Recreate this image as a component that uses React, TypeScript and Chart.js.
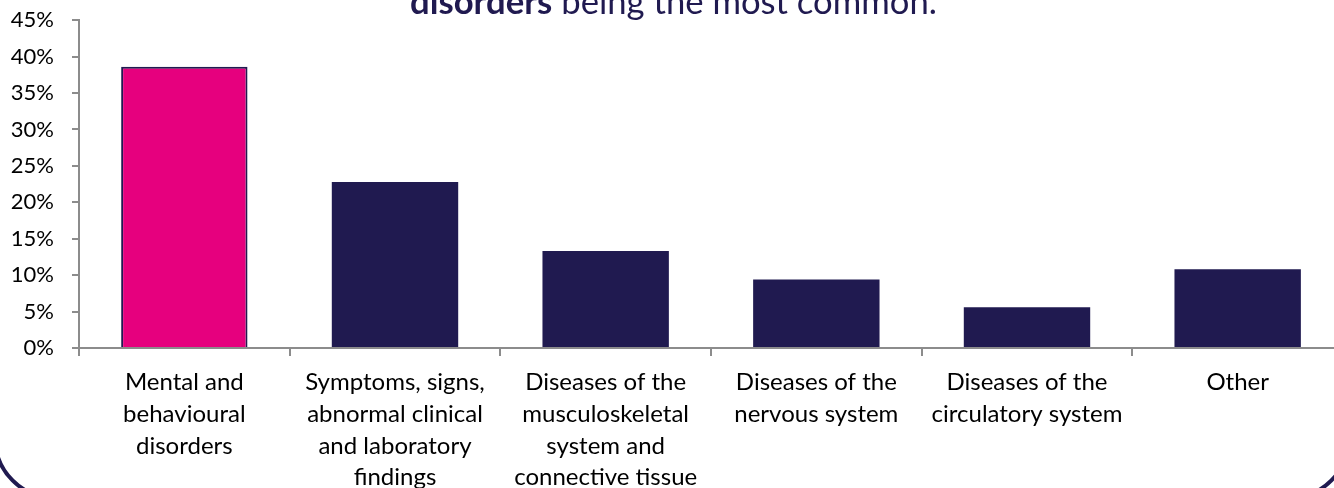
import React, { useEffect, useRef } from "react";
import { Chart, registerables } from "chart.js";

Chart.register(...registerables);

const categories: string[][] = [
  ["Mental and", "behavioural", "disorders"],
  ["Symptoms, signs,", "abnormal clinical", "and laboratory", "findings"],
  ["Diseases of the", "musculoskeletal", "system and", "connective tissue"],
  ["Diseases of the", "nervous system"],
  ["Diseases of the", "circulatory system"],
  ["Other"],
];
const shares: number[] = [38.6, 22.8, 13.3, 9.4, 5.6, 10.8];
const barColors: string[] = ["#E6007E", "#201A50", "#201A50", "#201A50", "#201A50", "#201A50"];
const titleBold = "disorders";
const titleRest = " being the most common.";

const FONT = "Lato, 'Open Sans', sans-serif";
const NAVY = "#201A50";
const GREY = "#8C8C8C";
const SHIFT = 11;

const decorPlugin = {
  id: "decor",
  afterDraw(chart: any) {
    const ctx = chart.ctx as CanvasRenderingContext2D;
    ctx.save();
    ctx.fillStyle = NAVY;
    ctx.textBaseline = "alphabetic";
    const size = 30;
    ctx.font = `bold ${size}px ${FONT}`;
    const wb = ctx.measureText(titleBold).width;
    ctx.font = `${size}px ${FONT}`;
    const wr = ctx.measureText(titleRest).width;
    const scale = 527 / (wb + wr);
    const s2 = size * scale;
    ctx.font = `bold ${s2}px ${FONT}`;
    const x0 = 410;
    ctx.fillText(titleBold, x0, 14 + SHIFT);
    const wb2 = ctx.measureText(titleBold).width;
    ctx.font = `${s2}px ${FONT}`;
    ctx.fillText(titleRest, x0 + wb2, 14 + SHIFT);
    ctx.strokeStyle = NAVY;
    ctx.lineWidth = 4;
    ctx.beginPath();
    (ctx as any).roundRect(-5, -200 + SHIFT, 1354, 698, 60);
    ctx.stroke();
    ctx.restore();
  },
};

export default function App() {
  const ref = useRef<HTMLCanvasElement | null>(null);
  useEffect(() => {
    if (!ref.current) return;
    const chart = new Chart(ref.current, {
      type: "bar",
      data: {
        labels: categories as any,
        datasets: [
          {
            data: shares,
            backgroundColor: barColors,
            borderColor: [NAVY, NAVY, NAVY, NAVY, NAVY, NAVY],
            borderWidth: [2, 0, 0, 0, 0, 0],
            barPercentage: 0.6,
            categoryPercentage: 1,
          },
        ],
      },
      options: {
        responsive: false,
        animation: false,
        events: [],
        layout: { padding: { top: 9, right: 17, left: 0, bottom: 0 } },
        plugins: { legend: { display: false }, tooltip: { enabled: false }, title: { display: false } },
        scales: {
          x: {
            offset: true,
            grid: {
              offset: true,
              drawOnChartArea: false,
              color: GREY,
              lineWidth: 2,
              tickLength: 8,
            },
            border: { color: GREY, width: 2 },
            ticks: {
              color: "#000",
              font: { family: FONT, size: 24, lineHeight: 1.33 },
              padding: 10,
              maxRotation: 0,
              autoSkip: false,
            },
            afterFit(scale: any) {
              scale.height = 140;
            },
          },
          y: {
            min: 0,
            max: 45,
            grid: {
              drawOnChartArea: false,
              color: GREY,
              lineWidth: 2,
              tickLength: 7,
            },
            border: { color: GREY, width: 2 },
            ticks: {
              stepSize: 5,
              color: "#000",
              font: { family: FONT, size: 22 },
              padding: 18,
              callback: (v: any) => `${v}%`,
            },
            afterFit(scale: any) {
              scale.width = 79;
            },
          },
        },
      },
      plugins: [decorPlugin],
    });
    return () => chart.destroy();
  }, []);
  return (
    <div
      style={{
        position: "fixed",
        left: 0,
        top: 0,
        width: 1334,
        height: 488,
        overflow: "hidden",
        background: "#fff",
      }}
    >
      <canvas
        ref={ref}
        width={1360}
        height={488 + SHIFT}
        style={{ width: 1360, height: 488 + SHIFT, display: "block", marginTop: -SHIFT }}
      />
    </div>
  );
}
